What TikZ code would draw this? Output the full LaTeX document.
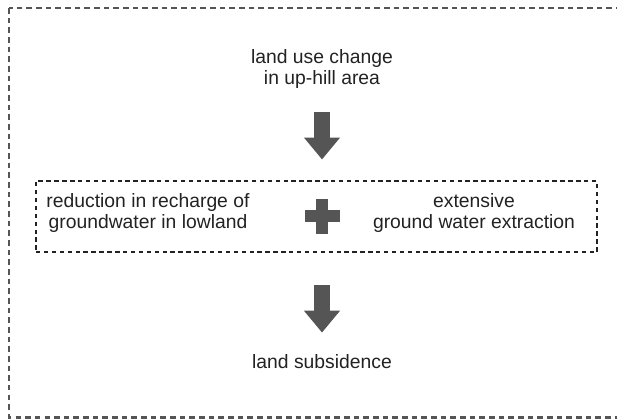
\documentclass[tikz,border=0pt]{standalone}
\usepackage{fontspec}
\setmainfont{Liberation Sans}
\usetikzlibrary{arrows.meta,positioning}
\definecolor{grisoscuro}{HTML}{555555}
\definecolor{tinta}{HTML}{222222}
\begin{document}
\begin{tikzpicture}[x=0.02cm,y=-0.02cm,font=\fontsize{11}{12.5}\selectfont,text=tinta,
 texto/.style={align=center,inner sep=0pt},
 marco/.style={draw=grisoscuro,line width=1.7pt,dash pattern=on 3.2pt off 2.3pt},
 grupo/.style={draw=tinta,line width=0.7pt,dash pattern=on 2.5pt off 2pt,minimum width=11.22cm,minimum height=1.42cm,inner sep=0pt},
 flecha/.style={-{Triangle[width=19.8pt,length=12.5pt]},line width=9.6pt,draw=grisoscuro},
 barra/.style={fill=grisoscuro,inner sep=0pt}]
\useasboundingbox (0,0) rectangle (617,419);
\draw[marco] (9,8) rectangle (660,417);
\node[texto] (cambio) at (322,69) {land use change\\in up-hill area};
\node[grupo] (causas) at (316.5,216.5) {};
\node[texto] (recarga) at (148,213) {reduction in recharge of\\groundwater in lowland};
\node[texto] (extraccion) at (474,213) {extensive\\ground water extraction};
% el signo mas, dos barras cruzadas
\node[barra,minimum width=0.7cm,minimum height=0.24cm] (mas) at (322,216) {};
\node[barra,minimum width=0.24cm,minimum height=0.7cm] (masv) at (mas) {};
\node[texto] (hundimiento) at (322,362) {land subsidence};
\draw[flecha,shorten <=13pt,shorten >=11.9pt] (cambio.south) -- (cambio.south |- causas.north);
\draw[flecha,shorten <=18.7pt,shorten >=12.5pt] (hundimiento.north |- causas.south) -- (hundimiento.north);
\end{tikzpicture}
\end{document}
